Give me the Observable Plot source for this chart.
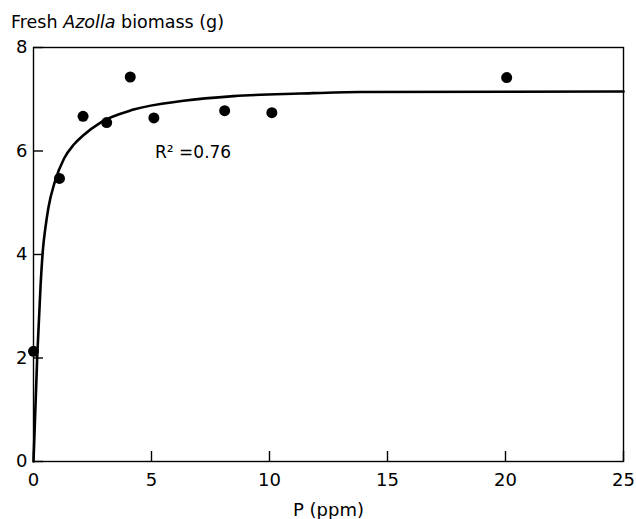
<!DOCTYPE html>
<html>
<head>
<meta charset="utf-8">
<script src="https://cdn.jsdelivr.net/npm/d3@7"></script>
<script src="https://cdn.jsdelivr.net/npm/@observablehq/plot@0.6"></script>
<style>
  body { margin: 0; background: #fff; }
  #chart { width: 636px; height: 519px; }
</style>
</head>
<body>
<div id="chart"></div>
<script>
// Observed data points
const ppm = [0, 1.1, 2.1, 3.1, 4.1, 5.1, 8.1, 10.1, 20.05];
const biomass = [2.13, 5.47, 6.67, 6.55, 7.43, 6.64, 6.78, 6.74, 7.42];

// Fitted curve
const fitPpm = [0, 0.16, 0.3, 0.4, 0.5, 0.63, 0.9, 1.3, 1.7, 2.1, 2.84, 4.24, 6.36, 8.48, 11.3, 13.84, 25];
const fitBiomass = [0, 2.05, 3.4, 4.1, 4.5, 4.9, 5.4, 5.86, 6.12, 6.3, 6.55, 6.8, 6.97, 7.06, 7.11, 7.14, 7.15];

// Ticks and labels
const xTicks = [0, 5, 10, 15, 20, 25];
const yTicks = [0, 2, 4, 6, 8];
const xLabel = "P (ppm)";
const titleParts = ["Fresh ", "Azolla", " biomass (g)"];
const r2Label = "R\u00B2 =0.76";
const r2At = {x: 5.15, y: 5.865};

const points = ppm.map((p, i) => ({p, b: biomass[i]}));
const fit = fitPpm.map((p, i) => ({p, b: fitBiomass[i]}));

const W = 636, H = 519, mL = 33, mR = 13, mT = 47, mB = 58;
const plotW = W - mL - mR, plotH = H - mT - mB;
const tickLen = 10;

const chart = Plot.plot({
  width: W, height: H,
  marginLeft: mL, marginRight: mR, marginTop: mT, marginBottom: mB,
  style: {fontFamily: "DejaVu Sans", fontSize: "18px", color: "#000", background: "#fff"},
  x: {domain: [0, 25], ticks: xTicks, tickSize: 0, tickPadding: 12, label: xLabel, labelAnchor: "center", labelArrow: "none", labelOffset: 54},
  y: {domain: [0, 8], ticks: yTicks, tickSize: 0, tickPadding: 6, label: null},
  marks: [
    Plot.frame({stroke: "#000", strokeWidth: 1.4}),
    Plot.tickX(xTicks, {x: d => d, insetTop: plotH - tickLen, stroke: "#000", strokeWidth: 1.4}),
    Plot.tickY(yTicks, {y: d => d, insetRight: plotW - tickLen, stroke: "#000", strokeWidth: 1.4}),
    Plot.line(fit, {x: "p", y: "b", curve: "monotone-x", stroke: "#000", strokeWidth: 2.6}),
    Plot.dot(points, {x: "p", y: "b", r: 5.5, fill: "#000", stroke: "none"}),
    Plot.text([r2Label], {x: () => r2At.x, y: () => r2At.y, text: d => d, textAnchor: "start", lineAnchor: "bottom", fontSize: 17, fill: "#000"})
  ]
});

const svg = d3.select(chart);
const t = svg.append("text")
  .attr("x", 11).attr("y", 28)
  .attr("text-anchor", "start")
  .attr("font-family", "DejaVu Sans").attr("font-size", 17.5).attr("fill", "#000");
t.append("tspan").text(titleParts[0]);
t.append("tspan").attr("font-style", "italic").text(titleParts[1]);
t.append("tspan").text(titleParts[2]);

document.getElementById("chart").appendChild(chart);
</script>
</body>
</html>
